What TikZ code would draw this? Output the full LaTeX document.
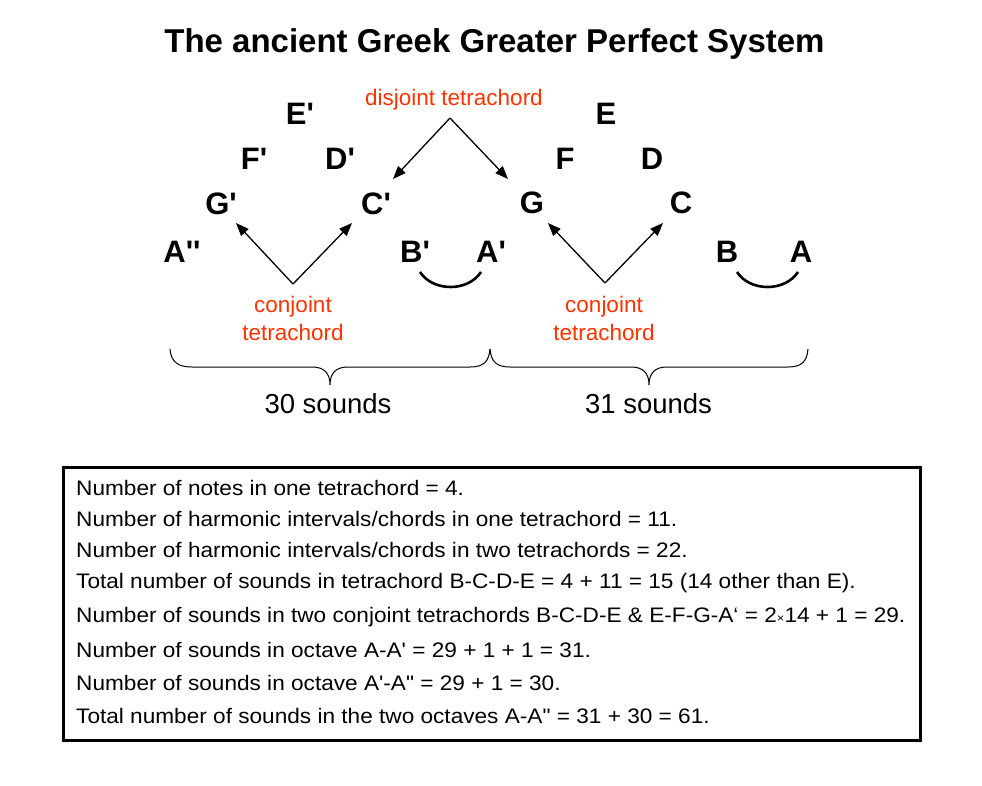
\documentclass[tikz,border=0pt]{standalone}
\usepackage{fontspec}
\newfontfamily\arial{Liberation Sans}
\usetikzlibrary{arrows.meta}
\definecolor{tred}{RGB}{255,51,0}
\newcommand\wideline[1]{\scalebox{1.077}[1]{#1}}
\begin{document}
\begin{tikzpicture}[x=1pt,y=-1pt,
  note/.style={font=\arial\bfseries\fontsize{31}{31}\selectfont, inner sep=0pt, anchor=base},
  redlab/.style={font=\arial\fontsize{22.5}{28}\selectfont, text=tred, align=center, inner sep=0pt},
  sounds/.style={font=\arial\fontsize{27.5}{30}\selectfont, inner sep=0pt, anchor=base},
  arr/.style={line width=1.3pt, -{Triangle[length=13pt,width=10pt]}},
  bracepath/.style={line width=1pt},
  tie/.style={line width=2.6pt},
  info/.style={font=\arial\fontsize{21}{21}\selectfont, anchor=base west, inner sep=0pt},
  infobox/.style={draw, line width=3pt, minimum width=857pt, minimum height=273pt, inner sep=0pt},
]
\useasboundingbox (0,0) rectangle (982,786);
\fill[white] (0,0) rectangle (982,786);

% title
\node[font=\arial\bfseries\fontsize{33}{33}\selectfont, inner sep=0pt, anchor=base] (title) at (494.5,53) {The ancient Greek Greater Perfect System};

% notes (upper octave)
\node[note] (Ep) at (300,125) {E'};
\node[note] (Fp) at (254,170) {F'};
\node[note] (Dp) at (340,170) {D'};
\node[note] (Gp) at (221,215) {G'};
\node[note] (Cp) at (376,215) {C'};
\node[note] (App) at (182,262) {A''};
\node[note] (Bp) at (415,262) {B'};
\node[note] (Ap) at (491,262) {A'};
% notes (lower octave)
\node[note] (E) at (606,125) {E};
\node[note] (F) at (565,170) {F};
\node[note] (D) at (652,170) {D};
\node[note] (G) at (532,214) {G};
\node[note] (C) at (681,214) {C};
\node[note] (B) at (727,262) {B};
\node[note] (A) at (801,262) {A};

% ties
\draw[tie] (420,272) .. controls (433,292) and (468,292) .. (481,272);
\draw[tie] (737,272) .. controls (750,292) and (785,292) .. (798,272);

% red labels
\node[redlab, anchor=base] (disj) at (454,106) {disjoint tetrachord};
\node[redlab, anchor=north] (conjL) at (293,296) {conjoint\\tetrachord};
\node[redlab, anchor=north] (conjR) at (604,296) {conjoint\\tetrachord};

% arrows
\coordinate (dApex) at (450,118);
\coordinate (dL) at (393,179);
\coordinate (dR) at (508,179);
\coordinate (lApex) at (293,284);
\coordinate (lL) at (236,223);
\coordinate (lR) at (352,223);
\coordinate (rApex) at (605,283);
\coordinate (rL) at (548,223);
\coordinate (rR) at (663,223);
\draw[arr] (dApex) -- (dL);
\draw[arr] (dApex) -- (dR);
\draw[arr] (lApex) -- (lL);
\draw[arr] (lApex) -- (lR);
\draw[arr] (rApex) -- (rL);
\draw[arr] (rApex) -- (rR);

% braces
\draw[bracepath] (170,349) .. controls (171,362) and (178,367) .. (192,367) -- (312,367)
  .. controls (324,367) and (330,373) .. (330,385)
  .. controls (330,373) and (336,367) .. (348,367) -- (470,367)
  .. controls (483,367) and (489,362) .. (490,349);
\draw[bracepath] (490,349) .. controls (491,362) and (497,367) .. (510,367) -- (631,367)
  .. controls (643,367) and (649,373) .. (649,385)
  .. controls (649,373) and (655,367) .. (667,367) -- (788,367)
  .. controls (801,367) and (807,362) .. (808,349);

\node[sounds] (s30) at (328,413) {30 sounds};
\node[sounds] (s31) at (648.5,413) {31 sounds};

% info box
\node[infobox] (box) at (491.5,603.5) {};
\node[info] (l1) at (76,495.5) {\wideline{Number of notes in one tetrachord = 4.}};
\node[info] (l2) at (76,526.5) {\wideline{Number of harmonic intervals/chords in one tetrachord = 11.}};
\node[info] (l3) at (76,557.5) {\wideline{Number of harmonic intervals/chords in two tetrachords = 22.}};
\node[info] (l4) at (76,588.5) {\wideline{Total number of sounds in tetrachord B-C-D-E = 4 + 11 = 15 (14 other than E).}};
\node[info] (l5) at (76,622.5) {\wideline{Number of sounds in two conjoint tetrachords B-C-D-E \& E-F-G-A‘ = 2{\fontsize{12}{12}\selectfont ×}14 + 1 = 29.}};
\node[info] (l6) at (76,657.5) {\wideline{Number of sounds in octave A-A' = 29 + 1 + 1 = 31.}};
\node[info] (l7) at (76,690.5) {\wideline{Number of sounds in octave A'-A" = 29 + 1 = 30.}};
\node[info] (l8) at (76,723.5) {\wideline{Total number of sounds in the two octaves A-A" = 31 + 30 = 61.}};
\end{tikzpicture}
\end{document}
